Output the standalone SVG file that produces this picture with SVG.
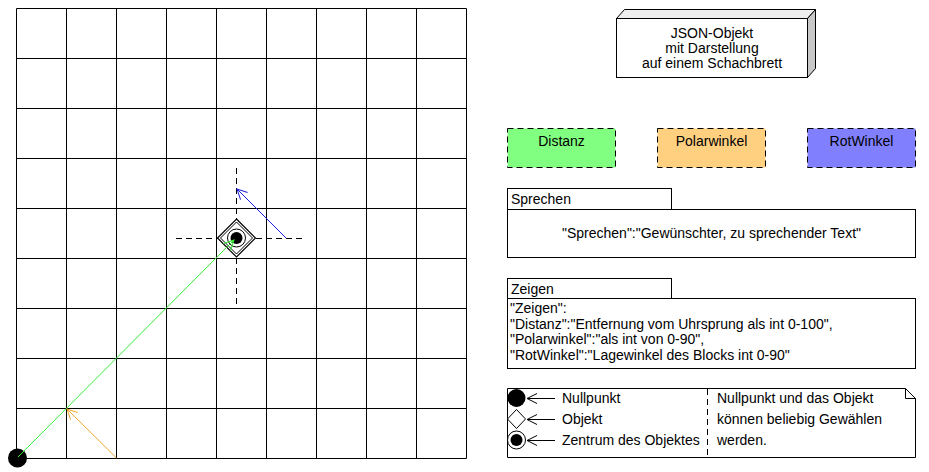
<svg xmlns="http://www.w3.org/2000/svg" width="929" height="472" viewBox="0 0 929 472">
<defs>
<style>
text{font-family:"Liberation Sans",Arial,sans-serif;font-size:14px;fill:#000}
.c{text-anchor:middle}
.box{fill:#fff;stroke:#000;stroke-width:1}
.dash{stroke:#000;stroke-width:1;stroke-dasharray:6,4}
.grid line{stroke:#000;stroke-width:1}
</style>
<marker id="open" viewBox="0 0 12 12" refX="11" refY="6" markerWidth="12" markerHeight="12" markerUnits="userSpaceOnUse" orient="auto">
<path d="M1,1 L11,6 L1,11" fill="none" stroke="context-stroke" stroke-width="1"/>
</marker>
</defs>
<rect width="929" height="472" fill="#fff"/>

<g id="board" class="grid">
<line x1="16.5" y1="8.5" x2="466.5" y2="8.5"/>
<line x1="16.5" y1="58.5" x2="466.5" y2="58.5"/>
<line x1="16.5" y1="108.5" x2="466.5" y2="108.5"/>
<line x1="16.5" y1="158.5" x2="466.5" y2="158.5"/>
<line x1="16.5" y1="208.5" x2="466.5" y2="208.5"/>
<line x1="16.5" y1="258.5" x2="466.5" y2="258.5"/>
<line x1="16.5" y1="308.5" x2="466.5" y2="308.5"/>
<line x1="16.5" y1="358.5" x2="466.5" y2="358.5"/>
<line x1="16.5" y1="408.5" x2="466.5" y2="408.5"/>
<line x1="16.5" y1="458.5" x2="466.5" y2="458.5"/>
<line x1="16.5" y1="8.5" x2="16.5" y2="458.5"/>
<line x1="66.5" y1="8.5" x2="66.5" y2="458.5"/>
<line x1="116.5" y1="8.5" x2="116.5" y2="458.5"/>
<line x1="166.5" y1="8.5" x2="166.5" y2="458.5"/>
<line x1="216.5" y1="8.5" x2="216.5" y2="458.5"/>
<line x1="266.5" y1="8.5" x2="266.5" y2="458.5"/>
<line x1="316.5" y1="8.5" x2="316.5" y2="458.5"/>
<line x1="366.5" y1="8.5" x2="366.5" y2="458.5"/>
<line x1="416.5" y1="8.5" x2="416.5" y2="458.5"/>
<line x1="466.5" y1="8.5" x2="466.5" y2="458.5"/>
</g>

<g id="crosshair">
<line class="dash" x1="176" y1="238.5" x2="302" y2="238.5"/>
<line class="dash" x1="236.5" y1="168" x2="236.5" y2="308"/>
</g>

<g id="objekt">
<path d="M236.5,219 L255.5,238 L236.5,257 L217.5,238 Z" fill="#fff" stroke="#000" stroke-width="1.2"/>
<path d="M236.5,222 L252.5,238 L236.5,254 L220.5,238 Z" fill="none" stroke="#000" stroke-width="1"/>
<circle cx="236.5" cy="238" r="9" fill="#fff" stroke="#000" stroke-width="1"/>
<circle cx="236.5" cy="238" r="6" fill="#000"/>
</g>

<g id="nullpunkt">
<circle cx="17.5" cy="458" r="9.5" fill="#000"/>
</g>

<g id="connectors" fill="none">
<line x1="18" y1="457" x2="234" y2="240" stroke="#33ee33" stroke-width="1" marker-end="url(#open)"/>
<line x1="116.5" y1="458" x2="67" y2="409" stroke="#f0a830" stroke-width="1" marker-end="url(#open)"/>
<line x1="286" y1="238" x2="237" y2="189" stroke="#2020dd" stroke-width="1" marker-end="url(#open)"/>
</g>

<g id="json-objekt">
<path d="M616.5,18.5 L624.5,9.5 L815.5,9.5 L807.5,18.5 Z" fill="#eeeeee" stroke="#000"/>
<path d="M807.5,18.5 L815.5,9.5 L815.5,68.5 L807.5,77.5 Z" fill="#c8c8c8" stroke="#000"/>
<rect class="box" x="616.5" y="18.5" width="191" height="59"/>
<text class="c" x="712" y="38">JSON-Objekt</text>
<text class="c" x="712" y="53">mit Darstellung</text>
<text class="c" x="712" y="68">auf einem Schachbrett</text>
</g>

<g id="distanz">
<rect x="507.5" y="128.5" width="108" height="39" fill="#80ff80" class="dash"/>
<text class="c" x="561.5" y="146">Distanz</text>
</g>
<g id="polarwinkel">
<rect x="657.5" y="128.5" width="108" height="39" fill="#ffd080" class="dash"/>
<text class="c" x="711.5" y="146">Polarwinkel</text>
</g>
<g id="rotwinkel">
<rect x="807.5" y="128.5" width="108" height="39" fill="#8080ff" class="dash"/>
<text class="c" x="861.5" y="146">RotWinkel</text>
</g>

<g id="sprechen">
<rect class="box" x="507.5" y="188.5" width="164" height="21"/>
<rect class="box" x="507.5" y="209.5" width="408" height="48"/>
<text x="511" y="204">Sprechen</text>
<text class="c" x="711.5" y="238">"Sprechen":"Gewünschter, zu sprechender Text"</text>
</g>

<g id="zeigen">
<rect class="box" x="507.5" y="278.5" width="164" height="20"/>
<rect class="box" x="507.5" y="298.5" width="408" height="70"/>
<text x="511" y="294">Zeigen</text>
<text x="510" y="313">"Zeigen":</text>
<text x="510" y="328.5">"Distanz":"Entfernung vom Uhrsprung als int 0-100",</text>
<text x="510" y="344">"Polarwinkel":"als int von 0-90",</text>
<text x="510" y="359.5">"RotWinkel":"Lagewinkel des Blocks int 0-90"</text>
</g>

<g id="legende">
<path d="M507.5,388.5 L905.5,388.5 L915.5,398.5 L915.5,457.5 L507.5,457.5 Z" fill="#fff" stroke="#000"/>
<path d="M905.5,388.5 L905.5,398.5 L915.5,398.5" fill="none" stroke="#000"/>
<line x1="707.5" y1="389" x2="707.5" y2="457" stroke="#000" stroke-dasharray="6,4"/>
<circle cx="516.5" cy="398" r="9" fill="#000"/>
<path d="M516.5,409.5 L525.5,419 L516.5,428.5 L507.5,419 Z" fill="#fff" stroke="#000"/>
<circle cx="516.5" cy="440" r="9" fill="#fff" stroke="#000"/>
<circle cx="516.5" cy="440" r="6" fill="#000"/>
<line x1="555" y1="398.5" x2="527" y2="398.5" stroke="#000" marker-end="url(#open)"/>
<line x1="555" y1="419.5" x2="527" y2="419.5" stroke="#000" marker-end="url(#open)"/>
<line x1="555" y1="440.5" x2="527" y2="440.5" stroke="#000" marker-end="url(#open)"/>
<text x="562" y="403">Nullpunkt</text>
<text x="562" y="424">Objekt</text>
<text x="562" y="445">Zentrum des Objektes</text>
<text x="717" y="403">Nullpunkt und das Objekt</text>
<text x="717" y="424"> können beliebig Gewählen</text>
<text x="717" y="445"> werden.</text>
</g>
</svg>
